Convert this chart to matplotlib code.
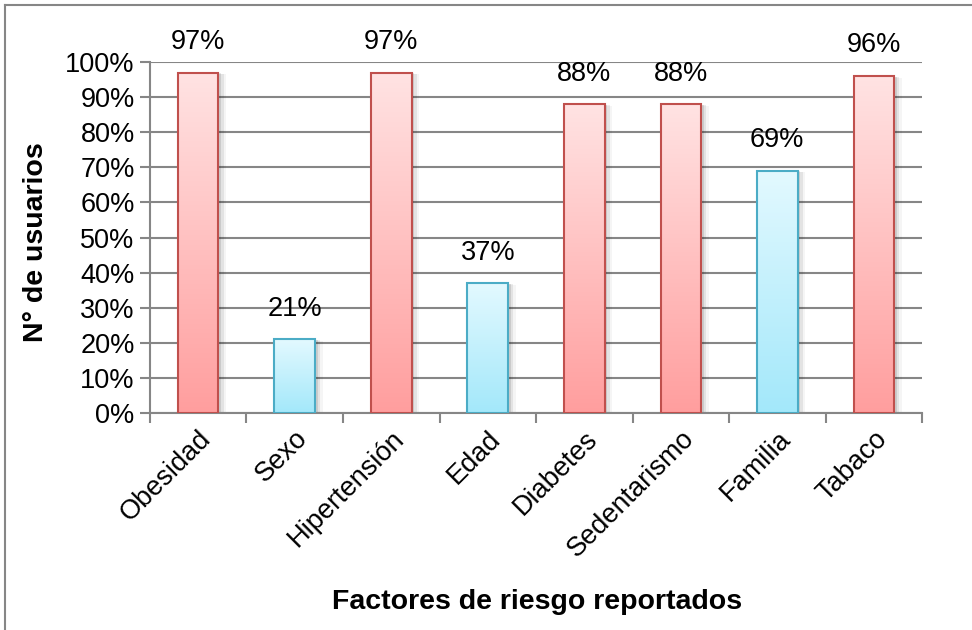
import numpy as np
import matplotlib
matplotlib.use("Agg")
import matplotlib.pyplot as plt
from matplotlib.patches import Rectangle
from matplotlib.colors import LinearSegmentedColormap

# Datos
factores = ["Obesidad", "Sexo", "Hipertensión", "Edad", "Diabetes",
            "Sedentarismo", "Familia", "Tabaco"]
porcentajes = [97, 21, 97, 37, 88, 88, 69, 96]
grupo = ["r", "b", "r", "b", "r", "r", "b", "r"]

plt.rcParams['font.family'] = ['Liberation Sans', 'DejaVu Sans']

colores = {
    "r": ("#ffe3e3", "#ff9e9e", "#c0504d"),
    "b": ("#e3f9ff", "#a3e8fa", "#4bacc6"),
}

fig = plt.figure(figsize=(9.72, 6.3), dpi=100)
ax = fig.add_axes([0.1543, 0.3444, 0.7943, 0.5572])

x = np.arange(len(factores))
ancho = 0.42
grad = np.linspace(0, 1, 256).reshape(-1, 1)

for xi, v, g in zip(x, porcentajes, grupo):
    top, bot, edge = colores[g]
    # sombra
    for k, a in enumerate([0.10, 0.07, 0.04]):
        d = 0.03 + k * 0.025
        ax.add_patch(Rectangle((xi - ancho / 2 + d, 0), ancho, v - d * 6,
                               facecolor="black", alpha=a, lw=0, zorder=2))
    rect = Rectangle((xi - ancho / 2, 0), ancho, v, facecolor="none",
                     edgecolor=edge, lw=1.5, zorder=4)
    ax.add_patch(rect)
    cmap = LinearSegmentedColormap.from_list("g", [top, bot])
    im = ax.imshow(grad, cmap=cmap, aspect="auto",
                   extent=(xi - ancho / 2, xi + ancho / 2, 0, v),
                   origin="upper", zorder=3)
    im.set_clip_path(rect)
    ax.text(xi, v + 5, f"{v}%", ha="center", va="bottom", fontsize=19.5)

ax.set_xlim(-0.5, len(factores) - 0.5)
ax.set_ylim(0, 100)
ax.set_yticks(np.arange(0, 101, 10))
ax.set_yticklabels([f"{t}%" for t in range(0, 101, 10)], fontsize=19.5)
ax.yaxis.grid(True, color="#868686", lw=1.5)
ax.set_axisbelow(True)

ax.set_xticks(x)
ax.set_xticklabels(factores, rotation=45, ha="right", rotation_mode="anchor",
                   fontsize=19.5)
ax.set_xticks(np.arange(-0.5, len(factores), 1), minor=True)
ax.tick_params(axis="x", which="major", length=0, pad=9)
ax.tick_params(axis="x", which="minor", length=7, width=1.5, color="#868686",
               direction="out")
ax.tick_params(axis="y", length=7, width=1.5, color="#868686", pad=4)

for s in ["top", "right"]:
    ax.spines[s].set_visible(False)
for s in ["left", "bottom"]:
    ax.spines[s].set_color("#868686")
    ax.spines[s].set_linewidth(1.5)

fig.text(0.037, 0.615, "N° de usuarios", rotation=90, ha="center",
         va="center", fontsize=20.5, fontweight="bold")
fig.text(0.553, 0.045, "Factores de riesgo reportados", ha="center",
         va="center", fontsize=20.5, fontweight="bold")

# marco
fig.add_artist(plt.Line2D([0.005, 1], [0.992, 0.992], color="#868686", lw=1.5))
fig.add_artist(plt.Line2D([0.005, 0.005], [0, 0.992], color="#868686", lw=1.5))

fig.savefig("out.png", dpi=100)
